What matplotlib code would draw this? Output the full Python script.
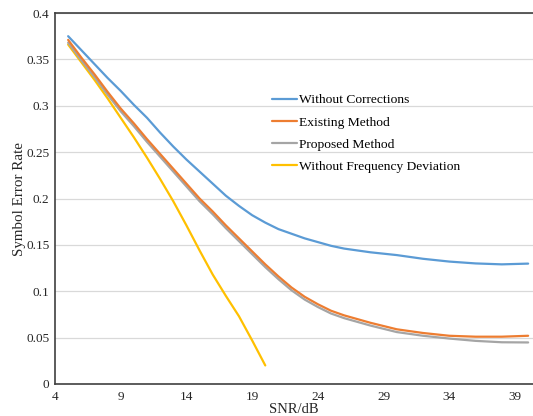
import matplotlib
matplotlib.use("Agg")
import matplotlib.pyplot as plt

plt.rcParams['font.family'] = ['Liberation Serif', 'DejaVu Serif']

snr_blue = [5, 6, 7, 8, 9, 10, 11, 12, 13, 14, 15, 16, 17, 18, 19, 20, 21, 22, 23, 24, 25, 26, 28, 30, 32, 34, 36, 38, 40]
without_corrections = [0.375, 0.360, 0.345, 0.330, 0.316, 0.301, 0.287, 0.271, 0.256, 0.242, 0.229, 0.216, 0.203,
                       0.192, 0.182, 0.174, 0.167, 0.162, 0.157, 0.153, 0.149, 0.146, 0.142, 0.139, 0.135, 0.132,
                       0.130, 0.129, 0.1298]

snr_methods = [5, 6, 7, 8, 9, 10, 11, 12, 13, 14, 15, 16, 17, 18, 19, 20, 21, 22, 23, 24, 25, 26, 28, 30, 32, 34, 36, 38, 40]
existing_method = [0.371, 0.352, 0.334, 0.315, 0.297, 0.281, 0.264, 0.248, 0.232, 0.216, 0.200, 0.186, 0.171,
                   0.157, 0.143, 0.129, 0.116, 0.104, 0.094, 0.086, 0.079, 0.074, 0.066, 0.059, 0.055, 0.052,
                   0.051, 0.051, 0.052]
proposed_method = [0.368, 0.349, 0.331, 0.312, 0.294, 0.278, 0.261, 0.245, 0.229, 0.213, 0.197, 0.183, 0.168,
                   0.154, 0.140, 0.126, 0.113, 0.101, 0.091, 0.083, 0.076, 0.071, 0.063, 0.056, 0.052, 0.049,
                   0.0465, 0.045, 0.0448]

snr_yellow = [5, 6, 7, 8, 9, 10, 11, 12, 13, 14, 15, 16, 17, 18, 19, 20]
without_freq_dev = [0.366, 0.347, 0.328, 0.308, 0.287, 0.266, 0.244, 0.221, 0.197, 0.171, 0.144, 0.118, 0.095,
                    0.073, 0.047, 0.020]

series_labels = ["Without Corrections", "Existing Method", "Proposed Method", "Without Frequency Deviation"]
x_ticks = [4, 9, 14, 19, 24, 29, 34, 39]
y_ticks = [0, 0.05, 0.1, 0.15, 0.2, 0.25, 0.3, 0.35, 0.4]
y_tick_labels = ["0", "0.05", "0.1", "0.15", "0.2", "0.25", "0.3", "0.35", "0.4"]

W, H = 533, 416
fig = plt.figure(figsize=(W / 100, H / 100), dpi=100)
ax_w = (W - 55) / W
ax = fig.add_axes([55 / W, 1 - 384 / H, ax_w, (384 - 13) / H])

lw = 1.6
ax.plot(snr_blue, without_corrections, color="#5B9BD5", lw=lw, label=series_labels[0], solid_capstyle='round')
ax.plot(snr_methods, existing_method, color="#ED7D31", lw=lw, label=series_labels[1], solid_capstyle='round', zorder=3)
ax.plot(snr_methods, proposed_method, color="#A5A5A5", lw=lw, label=series_labels[2], solid_capstyle='round', zorder=2.5)
ax.plot(snr_yellow, without_freq_dev, color="#FFC000", lw=lw, label=series_labels[3], solid_capstyle='round')

ax.set_xlim(4, 40.37)
ax.set_ylim(0, 0.4)
ax.set_xticks(x_ticks)
ax.set_yticks(y_ticks)
ax.set_yticklabels(y_tick_labels)
ax.tick_params(length=0, labelsize=9.5, colors="#262626")
ax.tick_params(axis='y', pad=4)
ax.tick_params(axis='x', pad=5)
ax.grid(axis='y', color="#D9D9D9", lw=0.9)
ax.set_axisbelow(True)
for s in ['left', 'bottom', 'top']:
    ax.spines[s].set_color("#404040")
    ax.spines[s].set_linewidth(1.2)
ax.spines['right'].set_visible(False)

ax.set_xlabel("SNR/dB", fontsize=10.5, color="#262626")
ax.xaxis.set_label_coords(0.5, -(413 - 384) / 371)
ax.xaxis.label.set_va('baseline')
ax.set_ylabel("Symbol Error Rate", fontsize=10.8, color="#262626")
ax.yaxis.set_label_coords(-(55 - 26) / (ax_w * W), 0.5)

ax.legend(loc='upper left', bbox_to_anchor=(272 / W, 1 - 94 / H), bbox_transform=fig.transFigure,
          frameon=False, fontsize=9.7, borderpad=0, handlelength=1.85, handletextpad=0.15,
          labelspacing=0.72, borderaxespad=0)

fig.savefig("out.png", dpi=100)
